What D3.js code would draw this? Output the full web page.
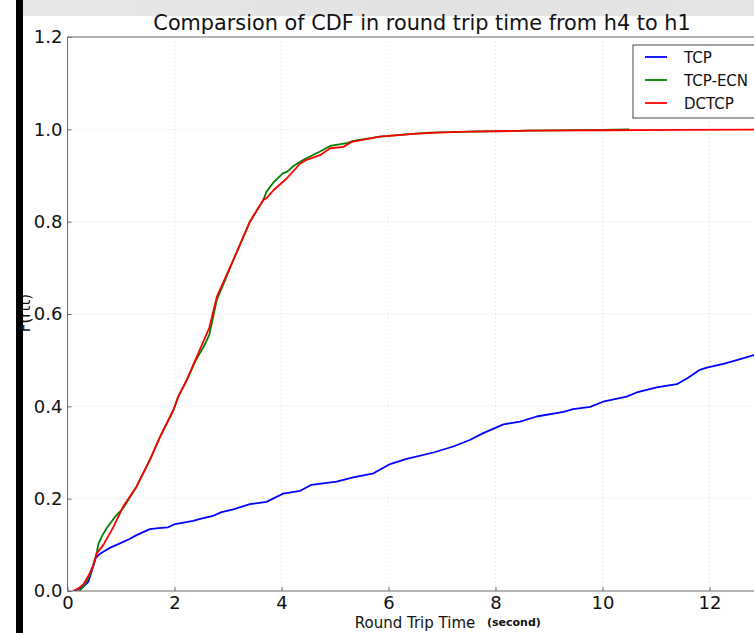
<!DOCTYPE html>
<html>
<head>
<meta charset="utf-8">
<script src="https://cdn.jsdelivr.net/npm/d3@7"></script>
<style>
  html, body { margin: 0; padding: 0; background: #fff; }
  svg { display: block; font-family: "DejaVu Sans", sans-serif; }
</style>
</head>
<body>
<svg id="chart" width="754" height="633"></svg>
<script>
// ---- data ----
const seriesNames = ["TCP", "TCP-ECN", "DCTCP"];
const seriesColors = ["#0000ff", "#008000", "#ff0000"];

const tcpT = [0.14,0.30,0.39,0.48,0.53,0.60,0.67,0.80,0.98,1.15,1.29,1.54,1.70,1.88,2.01,2.35,2.48,2.70,2.88,3.10,3.41,3.72,4.03,4.35,4.56,5.03,5.34,5.72,6.03,6.34,6.84,7.21,7.52,7.77,8.15,8.46,8.77,9.27,9.45,9.77,10.01,10.45,10.64,11.01,11.39,11.60,11.82,11.95,12.26,12.51,12.83,13.2];
const tcpF = [0,0.01,0.02,0.053,0.072,0.080,0.085,0.094,0.103,0.112,0.121,0.134,0.136,0.138,0.145,0.152,0.156,0.162,0.171,0.177,0.188,0.193,0.211,0.217,0.230,0.237,0.246,0.255,0.275,0.286,0.300,0.313,0.327,0.342,0.361,0.367,0.378,0.388,0.394,0.399,0.410,0.421,0.430,0.441,0.448,0.462,0.479,0.484,0.492,0.500,0.511,0.52];

const ecnT = [0.22,0.30,0.40,0.48,0.55,0.58,0.65,0.73,0.89,1.04,1.29,1.54,1.73,1.98,2.07,2.23,2.40,2.55,2.65,2.79,3.10,3.41,3.66,3.72,3.85,4.03,4.10,4.22,4.41,4.72,4.91,5.22,5.34,5.84,6.46,6.78,7.5,8.6,10.0,10.5];
const ecnF = [0,0.01,0.03,0.055,0.085,0.103,0.12,0.136,0.161,0.179,0.226,0.284,0.334,0.392,0.421,0.457,0.50,0.53,0.555,0.63,0.717,0.800,0.847,0.865,0.885,0.905,0.908,0.920,0.934,0.952,0.964,0.970,0.975,0.984,0.990,0.993,0.995,0.997,0.999,1.0];

const dcT = [0.10,0.20,0.30,0.40,0.48,0.55,0.67,0.86,1.04,1.29,1.54,1.73,1.98,2.07,2.23,2.35,2.50,2.65,2.79,3.10,3.41,3.66,3.72,3.85,4.10,4.35,4.47,4.72,4.91,5.16,5.31,5.84,6.46,6.9,7.5,8.6,10.0,11.5,14];
const dcF = [0,0.005,0.015,0.035,0.055,0.082,0.100,0.139,0.183,0.226,0.284,0.334,0.392,0.421,0.457,0.49,0.53,0.57,0.637,0.717,0.800,0.847,0.851,0.868,0.894,0.926,0.934,0.944,0.959,0.962,0.973,0.984,0.990,0.993,0.995,0.997,0.998,0.999,1.0];

const xTicks = [0, 2, 4, 6, 8, 10, 12];
const yTicks = [0.0, 0.2, 0.4, 0.6, 0.8, 1.0, 1.2];

// ---- layout ----
const svg = d3.select("#chart");
const pLeft = 67.5, pTop = 37, pBottom = 591;
const x = d3.scaleLinear().domain([0, 14]).range([pLeft, pLeft + 14 * 53.5]);
const y = d3.scaleLinear().domain([0, 1.2]).range([pBottom, pTop]);

const defs = svg.append("defs");
// top gray band
const grad = defs.append("linearGradient").attr("id", "band").attr("x1", 0).attr("x2", 1);
grad.append("stop").attr("offset", "0").attr("stop-color", "#e9e9e9");
grad.append("stop").attr("offset", "0.55").attr("stop-color", "#e2e2e2");
grad.append("stop").attr("offset", "1").attr("stop-color", "#e6e6e6");
svg.append("rect").attr("x", 23).attr("y", 0).attr("width", 731).attr("height", 16).attr("fill", "url(#band)");

defs.append("clipPath").attr("id", "plotclip")
  .append("rect").attr("x", pLeft).attr("y", pTop).attr("width", x(14) - pLeft).attr("height", pBottom - pTop);

// grid
const grid = svg.append("g");
grid.selectAll("line.gx").data(xTicks.filter(d => d > 0)).join("line").attr("class", "gx")
  .attr("x1", d => x(d)).attr("x2", d => x(d)).attr("y1", pTop).attr("y2", pBottom)
  .attr("stroke", "#d0d0d0").attr("stroke-width", 0.8).attr("stroke-dasharray", "1,3");
grid.selectAll("line.gy").data(yTicks.filter(d => d > 0 && d < 1.2)).join("line").attr("class", "gy")
  .attr("x1", pLeft).attr("x2", x(14)).attr("y1", d => y(d)).attr("y2", d => y(d))
  .attr("stroke", "#d0d0d0").attr("stroke-width", 0.8).attr("stroke-dasharray", "1,3");

// lines
const line = d3.line().x(d => x(d[0])).y(d => y(d[1]));
const series = [
  d3.zip(tcpT, tcpF),
  d3.zip(ecnT, ecnF),
  d3.zip(dcT, dcF)
];
const lg = svg.append("g").attr("clip-path", "url(#plotclip)");
series.forEach((s, i) => {
  lg.append("path").datum(s).attr("d", line)
    .attr("fill", "none").attr("stroke", seriesColors[i]).attr("stroke-width", 1.8)
    .attr("stroke-linejoin", "round");
});

// frame
svg.append("rect").attr("x", pLeft).attr("y", pTop).attr("width", x(14) - pLeft).attr("height", pBottom - pTop)
  .attr("fill", "none").attr("stroke", "#6a6a6a").attr("stroke-width", 1);

// axes
const xAxis = d3.axisBottom(x).tickValues(xTicks).tickFormat(d3.format("d")).tickSizeInner(-4).tickSizeOuter(0).tickPadding(5);
const gx = svg.append("g").attr("transform", `translate(0,${pBottom})`).call(xAxis);
gx.select(".domain").remove();
gx.selectAll(".tick line").attr("stroke", "#6a6a6a");
gx.selectAll("text").attr("font-size", 18).attr("fill", "#111").attr("font-family", "DejaVu Sans");

const yAxis = d3.axisLeft(y).tickValues(yTicks).tickFormat(d3.format(".1f")).tickSizeInner(-4).tickSizeOuter(0).tickPadding(5);
const gy = svg.append("g").attr("transform", `translate(${pLeft},0)`).call(yAxis);
gy.select(".domain").remove();
gy.selectAll(".tick line").attr("stroke", "#6a6a6a");
gy.selectAll("text").attr("font-size", 18).attr("fill", "#111").attr("font-family", "DejaVu Sans");

// title
svg.append("text").attr("x", 422).attr("y", 30).attr("text-anchor", "middle")
  .attr("font-size", 20.8).attr("fill", "#111")
  .text("Comparsion of CDF in round trip time from h4 to h1");

// x label
svg.append("text").attr("x", 415).attr("y", 628).attr("text-anchor", "middle")
  .attr("font-size", 15).attr("fill", "#111").text("Round Trip Time");
svg.append("text").attr("x", 487).attr("y", 626)
  .attr("font-size", 11).attr("font-weight", "bold").attr("fill", "#111").text("(second)");

// y label
svg.append("text").attr("transform", "translate(30,313) rotate(-90)").attr("text-anchor", "middle")
  .attr("font-size", 15).attr("fill", "#111").text("F(rtt)");

// legend
const leg = svg.append("g");
leg.append("rect").attr("x", 633).attr("y", 45).attr("width", 140).attr("height", 73)
  .attr("fill", "#fff").attr("stroke", "#444").attr("stroke-width", 1);
seriesNames.forEach((n, i) => {
  const yy = 57 + i * 23;
  leg.append("line").attr("x1", 645).attr("x2", 667).attr("y1", yy).attr("y2", yy)
    .attr("stroke", seriesColors[i]).attr("stroke-width", 1.8);
  leg.append("text").attr("x", 684).attr("y", yy + 5.5).attr("font-size", 15).attr("fill", "#111").text(n);
});

// black bar on the left
svg.append("rect").attr("x", 16).attr("y", 0).attr("width", 7).attr("height", 633).attr("fill", "#000");
</script>
</body>
</html>
